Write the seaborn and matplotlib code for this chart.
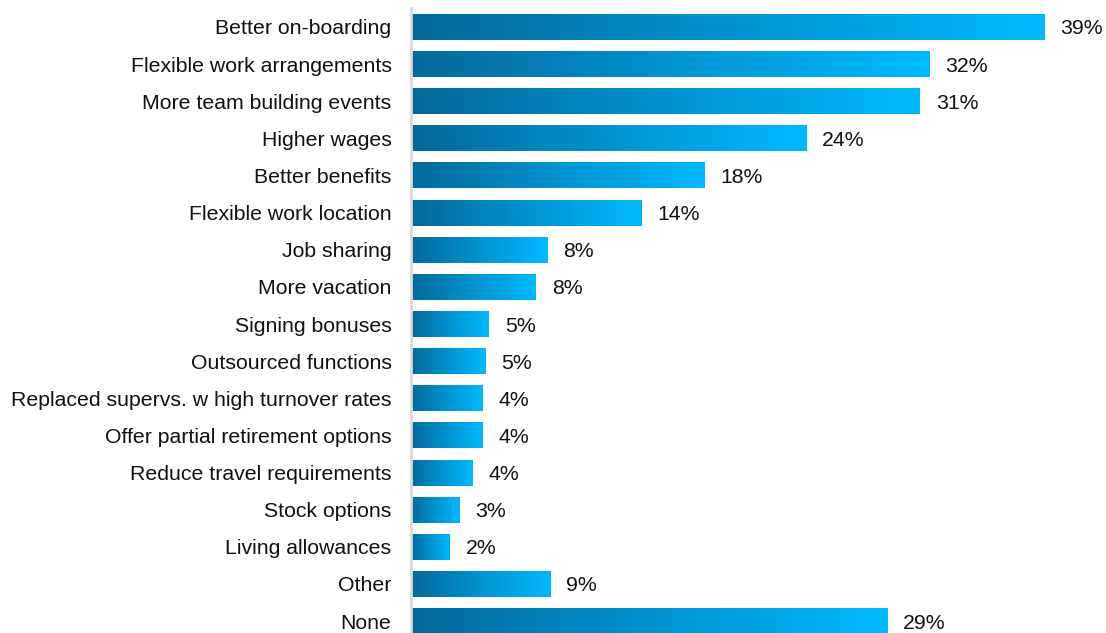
import numpy as np
import matplotlib
matplotlib.use("Agg")
import matplotlib.pyplot as plt
from matplotlib.colors import LinearSegmentedColormap
import seaborn as sns

# Retention measures and share of respondents (%)
measures = [
    "Better on-boarding",
    "Flexible work arrangements",
    "More team building events",
    "Higher wages",
    "Better benefits",
    "Flexible work location",
    "Job sharing",
    "More vacation",
    "Signing bonuses",
    "Outsourced functions",
    "Replaced supervs. w high turnover rates",
    "Offer partial retirement options",
    "Reduce travel requirements",
    "Stock options",
    "Living allowances",
    "Other",
    "None",
]
shares = [39.1, 32.0, 31.4, 24.4, 18.1, 14.2, 8.4, 7.7, 4.8, 4.6,
          4.4, 4.4, 3.8, 3.0, 2.4, 8.6, 29.4]

sns.set_theme(style="white")
plt.rcParams["font.family"] = ["Liberation Sans", "DejaVu Sans"]

W, H = 1106, 633
fig = plt.figure(figsize=(W / 100, H / 100), dpi=100)
# axes placed in pixel terms: bars start at x=411, rows span y=8..640
left_px, right_px = 411, 1100
top_px, bottom_px = 8.4, 639.6
ax = fig.add_axes([left_px / W, 1 - bottom_px / H,
                   (right_px - left_px) / W, (bottom_px - top_px) / H])

sns.barplot(x=shares, y=measures, orient="h", width=0.7,
            color="#0090cc", ax=ax)

xmax = (right_px - left_px) / 16.2
ax.set_xlim(0, xmax)
ylim = ax.get_ylim()

# horizontal dark-to-light gradient inside every bar
cmap = LinearSegmentedColormap.from_list("blue_grad", ["#05699a", "#0093d0", "#00b9fe"])
grad = np.linspace(0, 1, 256).reshape(1, -1)
for patch, val in zip(ax.patches, shares):
    x0, y0 = patch.get_x(), patch.get_y()
    w, h = patch.get_width(), patch.get_height()
    ax.imshow(grad, extent=[x0, x0 + w, y0 + h, y0], aspect="auto",
              cmap=cmap, interpolation="bicubic", zorder=2)
    patch.set_facecolor("none")
    patch.set_edgecolor("none")
    ax.annotate(f"{val:.0f}%", xy=(x0 + w, y0 + h / 2), xytext=(11.5, 0),
                textcoords="offset points", va="center_baseline", ha="left",
                fontsize=15.3, color="#111111", annotation_clip=False)

ax.set_xlim(0, xmax)
ax.set_ylim(ylim)

for side in ["top", "right", "bottom"]:
    ax.spines[side].set_visible(False)
ax.spines["left"].set_color("#dadada")
ax.spines["left"].set_linewidth(2)
ax.set_xticks([])
ax.set_xlabel("")
ax.set_ylabel("")
ax.tick_params(axis="y", length=0, pad=14, labelsize=15.3, labelcolor="#111111")
for lbl in ax.get_yticklabels():
    lbl.set_verticalalignment("center_baseline")

fig.savefig("out.png", dpi=100)
